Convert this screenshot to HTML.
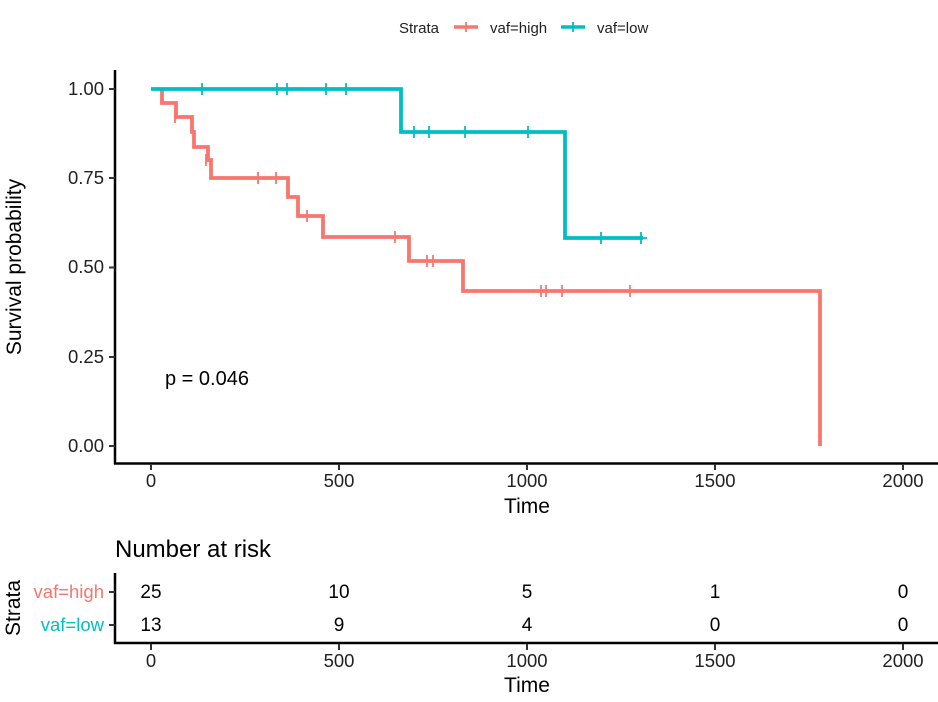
<!DOCTYPE html>
<html><head><style>body{margin:0;background:#fff}</style></head><body>
<svg width="938" height="697" xmlns="http://www.w3.org/2000/svg" font-family="Liberation Sans, sans-serif">
<rect width="938" height="697" fill="#fff"/>
<!-- legend -->
<text x="399" y="33" font-size="15" fill="#222">Strata</text>
<line x1="454" y1="27" x2="478" y2="27" stroke="#F8766D" stroke-width="3.5"/>
<line x1="466" y1="22" x2="466" y2="32" stroke="#F8766D" stroke-width="1.8"/>
<text x="490" y="33" font-size="15" fill="#222">vaf=high</text>
<line x1="561" y1="27" x2="585" y2="27" stroke="#00BFC4" stroke-width="3.5"/>
<line x1="573" y1="22" x2="573" y2="32" stroke="#00BFC4" stroke-width="1.8"/>
<text x="597" y="33" font-size="15" fill="#222">vaf=low</text>
<!-- axes -->
<line x1="115" y1="70" x2="115" y2="464.5" stroke="#000" stroke-width="2.5"/>
<line x1="114" y1="463.5" x2="938" y2="463.5" stroke="#000" stroke-width="2.5"/>
<g stroke="#333" stroke-width="2">
<line x1="109" y1="89" x2="115" y2="89"/><line x1="109" y1="178" x2="115" y2="178"/><line x1="109" y1="267.5" x2="115" y2="267.5"/><line x1="109" y1="357" x2="115" y2="357"/><line x1="109" y1="446" x2="115" y2="446"/>
<line x1="151" y1="464" x2="151" y2="470"/><line x1="339" y1="464" x2="339" y2="470"/><line x1="527" y1="464" x2="527" y2="470"/><line x1="715" y1="464" x2="715" y2="470"/><line x1="903" y1="464" x2="903" y2="470"/>
</g>
<g font-size="18.5" fill="#222" text-anchor="end">
<text x="104" y="95">1.00</text><text x="104" y="184">0.75</text><text x="104" y="273">0.50</text><text x="104" y="363">0.25</text><text x="104" y="452">0.00</text>
</g>
<g font-size="18.5" fill="#222" text-anchor="middle">
<text x="151" y="487">0</text><text x="339" y="487">500</text><text x="527" y="487">1000</text><text x="715" y="487">1500</text><text x="903" y="487">2000</text>
</g>
<text x="527" y="513" font-size="21" text-anchor="middle">Time</text>
<text transform="translate(21,267) rotate(-90)" font-size="21" text-anchor="middle">Survival probability</text>
<text x="165" y="385" font-size="20">p = 0.046</text>
<!-- curves -->
<path d="M162 89 V103 H176 V117 H192 V132 H194 V147 H208 V160 H211 V178 H288 V197 H298 V216 H323 V237 H409 V261 H463 V291 H820 V446" fill="none" stroke="#F8766D" stroke-width="3.8"/>
<path d="M151 89 H401 V132 H565 V238 H643" fill="none" stroke="#00BFC4" stroke-width="3.8"/>
<g stroke="#F8766D" stroke-width="1.8">
<line x1="175" y1="111" x2="175" y2="123"/><line x1="206" y1="154" x2="206" y2="166"/><line x1="258" y1="172" x2="258" y2="184"/><line x1="276" y1="172" x2="276" y2="184"/><line x1="307" y1="210" x2="307" y2="222"/><line x1="395" y1="231" x2="395" y2="243"/><line x1="427" y1="255" x2="427" y2="267"/><line x1="433" y1="255" x2="433" y2="267"/><line x1="541" y1="285" x2="541" y2="297"/><line x1="546" y1="285" x2="546" y2="297"/><line x1="562" y1="285" x2="562" y2="297"/><line x1="630" y1="285" x2="630" y2="297"/>
</g>
<g stroke="#00BFC4" stroke-width="1.8">
<line x1="202" y1="83" x2="202" y2="95"/><line x1="277" y1="83" x2="277" y2="95"/><line x1="287" y1="83" x2="287" y2="95"/><line x1="326" y1="83" x2="326" y2="95"/><line x1="346" y1="83" x2="346" y2="95"/><line x1="414" y1="126" x2="414" y2="138"/><line x1="429" y1="126" x2="429" y2="138"/><line x1="465" y1="126" x2="465" y2="138"/><line x1="528" y1="126" x2="528" y2="138"/><line x1="601" y1="232" x2="601" y2="244"/><line x1="641" y1="232" x2="641" y2="244"/><line x1="636" y1="238" x2="647" y2="238"/>
</g>
<!-- risk table -->
<text x="115" y="557" font-size="24">Number at risk</text>
<line x1="115" y1="573" x2="115" y2="644" stroke="#000" stroke-width="2.5"/>
<line x1="114" y1="643" x2="938" y2="643" stroke="#000" stroke-width="2.5"/>
<g stroke="#333" stroke-width="2">
<line x1="109" y1="592" x2="115" y2="592"/><line x1="109" y1="625" x2="115" y2="625"/>
<line x1="151" y1="644" x2="151" y2="650"/><line x1="339" y1="644" x2="339" y2="650"/><line x1="527" y1="644" x2="527" y2="650"/><line x1="715" y1="644" x2="715" y2="650"/><line x1="903" y1="644" x2="903" y2="650"/>
</g>
<text x="104" y="598" font-size="18.5" fill="#F8766D" text-anchor="end">vaf=high</text>
<text x="104" y="631" font-size="18.5" fill="#00BFC4" text-anchor="end">vaf=low</text>
<text transform="translate(20,608) rotate(-90)" font-size="21" text-anchor="middle">Strata</text>
<g font-size="19" text-anchor="middle" fill="#000">
<text x="151" y="598">25</text><text x="339" y="598">10</text><text x="527" y="598">5</text><text x="715" y="598">1</text><text x="903" y="598">0</text>
<text x="151" y="631">13</text><text x="339" y="631">9</text><text x="527" y="631">4</text><text x="715" y="631">0</text><text x="903" y="631">0</text>
</g>
<g font-size="18.5" fill="#222" text-anchor="middle">
<text x="151" y="667">0</text><text x="339" y="667">500</text><text x="527" y="667">1000</text><text x="715" y="667">1500</text><text x="903" y="667">2000</text>
</g>
<text x="527" y="692" font-size="21" text-anchor="middle">Time</text>
</svg>
</body></html>
